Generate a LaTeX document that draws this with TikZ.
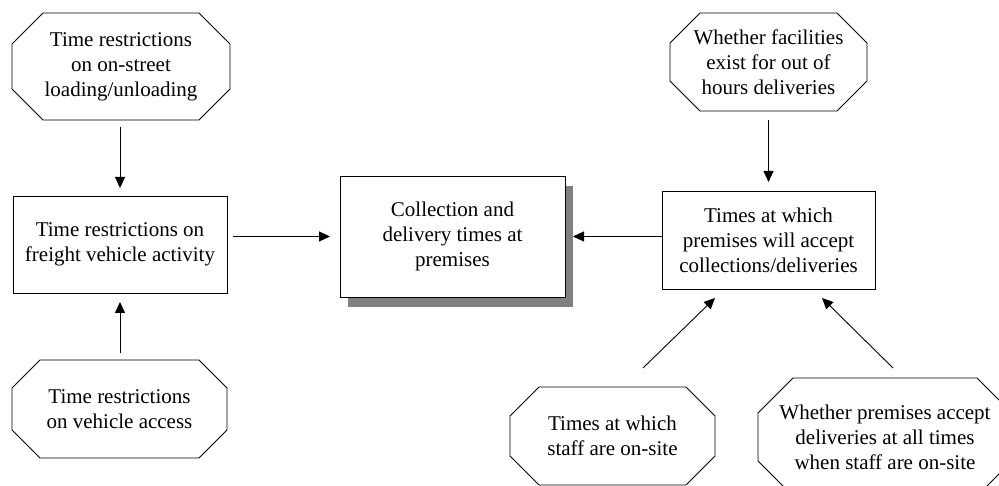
\documentclass[tikz,border=0pt]{standalone}
\usepackage{fontspec}
\setmainfont{Liberation Serif}
\usetikzlibrary{arrows.meta,shadows}

% outline of a chamfered (octagonal) box drawn round an invisible node
\newcommand\octoframe[2]{%
  \draw[frame] ([xshift=#2]#1.north west) -- ([xshift=-#2]#1.north east)
    -- ([yshift=-#2]#1.north east) -- ([yshift=#2]#1.south east)
    -- ([xshift=-#2]#1.south east) -- ([xshift=#2]#1.south west)
    -- ([yshift=#2]#1.south west) -- ([yshift=-#2]#1.north west) -- cycle;}

\tikzset{
  frame/.style={draw=black, line width=0.9pt, line join=miter},
  label/.style={inner sep=0pt, outer sep=0pt, align=center,
    font=\fontsize{21}{25}\selectfont},
  octbox/.style={label},
  plainbox/.style={label, frame, fill=white},
  link/.style={-{Triangle[length=11pt,width=10pt]}, line width=0.9pt},
}

\begin{document}
\begin{tikzpicture}[x=1pt,y=1pt]
\useasboundingbox (0,0) rectangle (999,-486);
\clip (0,0) rectangle (999,-486);

% left column
\node[octbox, minimum width=218pt, minimum height=107pt] (onstreet) at (121,-66.5)
  {Time restrictions\\on on-street\\loading/unloading};
\octoframe{onstreet}{31pt}
\node[plainbox, minimum width=214pt, minimum height=97pt] (freight) at (120,-244.5)
  {Time restrictions on\\freight vehicle activity};
\node[octbox, minimum width=215pt, minimum height=98pt] (access) at (119.5,-409)
  {Time restrictions\\on vehicle access};
\octoframe{access}{28pt}

% centre
\node[plainbox, minimum width=225pt, minimum height=121pt,
  general shadow={shadow xshift=8pt, shadow yshift=-10pt,
    fill={rgb,255:red,128;green,128;blue,128}, draw=none, opacity=1}]
  (times) at (452.5,-236.5)
  {Collection and\\delivery times at\\premises};

% right column
\node[octbox, minimum width=197pt, minimum height=98pt] (facilities) at (768.5,-62)
  {Whether facilities\\exist for out of\\hours deliveries};
\octoframe{facilities}{30pt}
\node[plainbox, minimum width=213pt, minimum height=98pt] (accept) at (768.5,-240)
  {Times at which\\premises will accept\\collections/deliveries};
\node[octbox, minimum width=205pt, minimum height=98pt] (staff) at (612.5,-436)
  {Times at which\\staff are on-site};
\octoframe{staff}{29pt}
\node[octbox, minimum width=254pt, minimum height=118pt] (alltimes) at (885,-437)
  {Whether premises accept\\deliveries at all times\\when staff are on-site};
\octoframe{alltimes}{35pt}

% connectors
\draw[link, shorten <=7pt, shorten >=8pt] (onstreet.south -| freight.north) -- (freight.north);
\draw[link, shorten <=7pt, shorten >=9pt] (access.north -| freight.south) -- (freight.south);
\draw[link, shorten <=6pt, shorten >=10pt] (freight.east |- times.west) -- (times.west);
\draw[link, shorten >=8pt] (accept.west |- times.east) -- (times.east);
\draw[link, shorten <=9pt, shorten >=9pt] (facilities.south) -- (accept.north);
\draw[link] ([shift={(30.5,19)}]staff.north) -- ([shift={(-53.5,-9)}]accept.south);
\draw[link] ([shift={(8,10)}]alltimes.north) -- ([shift={(53.5,-9)}]accept.south);
\end{tikzpicture}
\end{document}
